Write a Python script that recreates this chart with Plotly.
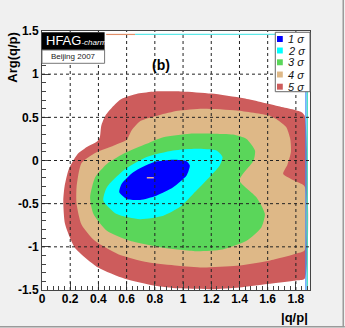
import plotly.graph_objects as go
import numpy as np

# contour regions (|q/p|, Arg(q/p))
sig5_x = [1.862, 1.84, 1.67, 1.43, 1.2, 0.99, 0.80, 0.68, 0.56, 0.506, 0.45, 0.42, 0.41, 0.39, 0.318, 0.25, 0.19, 0.16, 0.151, 0.163, 0.233, 0.398, 0.587, 0.80, 0.963, 1.2, 1.4, 1.6, 1.8, 1.862]
sig5_y = [0.52, 0.56, 0.63, 0.72, 0.775, 0.80, 0.80, 0.775, 0.71, 0.63, 0.52, 0.40, 0.27, 0.22, 0.155, 0.07, -0.10, -0.30, -0.465, -0.733, -1.01, -1.24, -1.37, -1.45, -1.48, -1.49, -1.47, -1.43, -1.39, -1.37]

sig4_x = [1.765, 1.76, 1.73, 1.67, 1.61, 1.38, 1.14, 0.963, 0.83, 0.70, 0.636, 0.60, 0.51, 0.38, 0.28, 0.245, 0.245, 0.28, 0.375, 0.54, 0.75, 0.963, 1.14, 1.38, 1.61, 1.80, 1.862, 1.862, 1.80, 1.71, 1.74]
sig4_y = [0.10, 0.25, 0.39, 0.47, 0.52, 0.58, 0.60, 0.575, 0.525, 0.46, 0.35, 0.24, 0.174, 0.09, -0.03, -0.31, -0.50, -0.74, -0.93, -1.085, -1.18, -1.22, -1.24, -1.22, -1.16, -1.08, -1.04, -0.30, -0.24, -0.155, -0.05]

sig3_x = [1.50, 1.51, 1.45, 1.354, 1.21, 1.048, 0.86, 0.742, 0.577, 0.46, 0.377, 0.341, 0.365, 0.46, 0.624, 0.86, 1.095, 1.28, 1.45, 1.555, 1.58, 1.52, 1.40]
sig3_y = [0.0, 0.116, 0.25, 0.30, 0.31, 0.31, 0.27, 0.194, 0.078, -0.04, -0.194, -0.427, -0.62, -0.814, -0.93, -1.01, -1.05, -1.03, -0.93, -0.775, -0.62, -0.427, -0.23]

sig2_x = [1.26, 1.28, 1.237, 1.095, 0.93, 0.742, 0.577, 0.46, 0.435, 0.53, 0.695, 0.86, 0.977, 1.07, 1.166]
sig2_y = [-0.058, 0.04, 0.116, 0.136, 0.116, 0.04, -0.116, -0.31, -0.465, -0.62, -0.68, -0.64, -0.54, -0.39, -0.23]

sig1_x = [1.048, 1.025, 0.93, 0.79, 0.647, 0.565, 0.548, 0.60, 0.695, 0.81, 0.93, 1.025]
sig1_y = [-0.058, -0.008, 0.008, -0.02, -0.136, -0.27, -0.368, -0.445, -0.457, -0.407, -0.31, -0.174]

best_x = [0.768]
best_y = [-0.20]

# edge artefacts of the histogram
top_tan_x = [0.455, 0.66]
top_cyan_x = [0.66, 1.875]
top_edge_y = [1.46, 1.46]
right_edge_y = [-1.5, 1.46]
right_blue_x = [1.871, 1.871]
right_cyan_x = [1.881, 1.881]

labels = ["1 σ", "2 σ", "3 σ", "4 σ", "5 σ"]
colors = ["#0000ff", "#00ffff", "#5ad65a", "#deb887", "#cd5c5c"]

x_ticks = [0, 0.2, 0.4, 0.6, 0.8, 1, 1.2, 1.4, 1.6, 1.8]
x_labels = ["0", "0.2", "0.4", "0.6", "0.8", "1", "1.2", "1.4", "1.6", "1.8"]
y_ticks = [-1.5, -1, -0.5, 0, 0.5, 1, 1.5]
y_labels = ["-1.5", "-1", "-0.5", "0", "0.5", "1", "1.5"]

fig = go.Figure()
regions = [(sig5_x, sig5_y), (sig4_x, sig4_y), (sig3_x, sig3_y), (sig2_x, sig2_y), (sig1_x, sig1_y)]
for (rx, ry), c in zip(regions, colors[::-1]):
    fig.add_trace(go.Scatter(x=rx + rx[:1], y=ry + ry[:1], mode="lines", fill="toself",
                             fillcolor=c, line=dict(width=0, shape="spline", smoothing=0.6),
                             hoverinfo="skip", showlegend=False))

fig.add_trace(go.Scatter(x=best_x, y=best_y, mode="markers",
                         marker=dict(symbol="line-ew", size=5, line=dict(width=1.5, color="#e0a898")),
                         showlegend=False))
for lx, ly, c in [(top_tan_x, top_edge_y, "#e0906a"), (top_cyan_x, top_edge_y, "#5fe8e8"),
                  (right_blue_x, right_edge_y, "#3a8cff"), (right_cyan_x, right_edge_y, "#40e0c0")]:
    fig.add_trace(go.Scatter(x=lx, y=ly, mode="lines", line=dict(width=1.2, color=c),
                             hoverinfo="skip", showlegend=False))

shapes = []
# dotted grid on top of the contours
for v in x_ticks[1:]:
    shapes.append(dict(type="line", xref="x", yref="paper", x0=v, x1=v, y0=0, y1=1,
                       line=dict(color="#222", width=1, dash="dot"), layer="above"))
for v in y_ticks[1:-1]:
    shapes.append(dict(type="line", xref="paper", yref="y", x0=0, x1=1, y0=v, y1=v,
                       line=dict(color="#222", width=1, dash="dot"), layer="above"))

# HFAG logo
shapes.append(dict(type="rect", xref="paper", yref="paper", x0=0.0, x1=0.2336, y0=0.9266, y1=0.995,
                   fillcolor="black", line=dict(width=0), layer="above"))
shapes.append(dict(type="rect", xref="paper", yref="paper", x0=0.0, x1=0.2336, y0=0.8753, y1=0.9266,
                   fillcolor="white", line=dict(width=1, color="#777"), layer="above"))

# legend box
shapes.append(dict(type="rect", xref="paper", yref="paper", x0=0.8705, x1=1.0, y0=0.7656, y1=0.995,
                   fillcolor="white", line=dict(width=1, color="#666"), layer="above"))
row_y = [0.9691, 0.9247, 0.8792, 0.8320, 0.7850]
annotations = []
for lab, c, ry in zip(labels, colors, row_y):
    shapes.append(dict(type="rect", xref="paper", yref="paper", x0=0.8769, x1=0.8985,
                       y0=ry - 0.0115, y1=ry + 0.0115, fillcolor=c, line=dict(width=0), layer="above"))
    annotations.append(dict(text="<i>" + lab + "</i>", x=0.912, y=ry, xref="paper", yref="paper",
                            xanchor="left", yanchor="middle", showarrow=False,
                            font=dict(family="Liberation Sans", size=11, color="#111")))

# canvas bevel
shapes.append(dict(type="line", xref="paper", yref="paper", x0=-0.16, x1=1.13, y0=-0.1417, y1=-0.1417,
                   line=dict(color="#9a9a9a", width=1.5)))
shapes.append(dict(type="line", xref="paper", yref="paper", x0=1.124, x1=1.124, y0=-0.1417, y1=1.13,
                   line=dict(color="#9a9a9a", width=1.5)))

annotations += [
    dict(text="HFAG<i><span style='font-size:8px'>-charm</span></i>", x=0.008, y=0.962,
         xref="paper", yref="paper", xanchor="left", yanchor="middle", showarrow=False,
         font=dict(family="Liberation Sans", size=13, color="white")),
    dict(text="Beijing 2007", x=0.1168, y=0.901, xref="paper", yref="paper",
         xanchor="center", yanchor="middle", showarrow=False,
         font=dict(family="Liberation Sans", size=8, color="#222")),
    dict(text="<b>(b)</b>", x=0.445, y=0.869, xref="paper", yref="paper",
         xanchor="center", yanchor="middle", showarrow=False,
         font=dict(family="Liberation Sans", size=14, color="black")),
    dict(text="<b>|q/p|</b>", x=1.0, y=-0.106, xref="paper", yref="paper",
         xanchor="right", yanchor="middle", showarrow=False,
         font=dict(family="Liberation Sans", size=13, color="black")),
    dict(text="<b>Arg(q/p)</b>", x=-0.111, y=1.004, xref="paper", yref="paper", textangle=-90,
         xanchor="center", yanchor="top", showarrow=False,
         font=dict(family="Liberation Sans", size=13, color="black")),
]

axis_font = dict(family="Liberation Sans", size=12, color="black", weight="bold")
fig.update_layout(
    width=345, height=328,
    margin=dict(l=42, r=35, t=31, b=38),
    paper_bgcolor="#f0f0f0", plot_bgcolor="white",
    showlegend=False,
    shapes=shapes, annotations=annotations,
    xaxis=dict(range=[0, 1.9], tickmode="array", tickvals=x_ticks, ticktext=x_labels,
               ticks="inside", ticklen=8, tickcolor="#444", tickfont=axis_font, ticklabelstandoff=-2,
               minor=dict(tickvals=list(np.round(np.arange(0, 1.9, 0.04), 2)), ticks="inside",
                          ticklen=4, tickcolor="#444", showgrid=False),
               showgrid=False, zeroline=False, showline=True, linecolor="#444", linewidth=1,
               mirror=True, fixedrange=True),
    yaxis=dict(range=[-1.5, 1.5], tickmode="array", tickvals=y_ticks, ticktext=y_labels,
               ticks="inside", ticklen=8, tickcolor="#444", tickfont=axis_font,
               minor=dict(tickvals=list(np.round(np.arange(-1.5, 1.51, 0.1), 2)), ticks="inside",
                          ticklen=4, tickcolor="#444", showgrid=False),
               showgrid=False, zeroline=False, showline=True, linecolor="#444", linewidth=1,
               mirror=True, fixedrange=True),
)

fig.write_html("out.html", config={"displayModeBar": False},
               post_script="document.body.style.margin='0';")
